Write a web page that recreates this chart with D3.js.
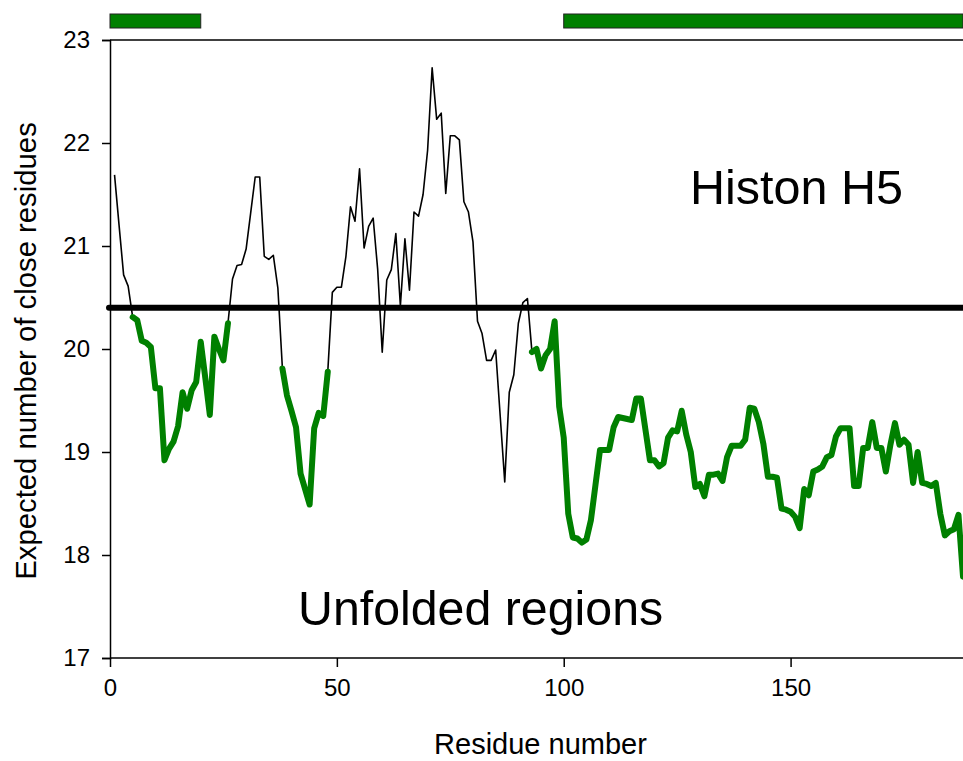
<!DOCTYPE html>
<html>
<head>
<meta charset="utf-8">
<script src="https://cdn.jsdelivr.net/npm/d3@7"></script>
<style>
  body { margin: 0; background: #fff; }
  svg { display: block; font-family: Arial, "Liberation Sans", sans-serif; }
</style>
</head>
<body>
<svg id="chart" width="963" height="761"></svg>
<script>
// expected number of close residues per residue
const residues = d3.range(1, 189);
const values = [
  21.69, 21.20, 20.72, 20.61, 20.31, 20.28, 20.08, 20.06, 20.02, 19.62,
  19.62, 18.92, 19.03, 19.10, 19.25, 19.58, 19.42, 19.60, 19.68, 20.07,
  19.72, 19.36, 20.12, 20.00, 19.89, 20.25, 20.68, 20.81, 20.82, 20.97,
  21.32, 21.67, 21.67, 20.90, 20.87, 20.91, 20.59, 19.81, 19.55, 19.40,
  19.24, 18.79, 18.64, 18.49, 19.23, 19.38, 19.35, 19.78, 20.55, 20.60,
  20.60, 20.90, 21.38, 21.24, 21.75, 20.98, 21.19, 21.27, 20.77, 19.97,
  20.67, 20.77, 21.12, 20.42, 21.07, 20.57, 21.33, 21.29, 21.50, 21.93,
  22.73, 22.23, 22.29, 21.51, 22.07, 22.07, 22.03, 21.43, 21.33, 21.04,
  20.27, 20.15, 19.89, 19.89, 19.99, 19.35, 18.71, 19.58, 19.75, 20.25,
  20.45, 20.49, 19.97, 20.00, 19.81, 19.94, 20.00, 20.27, 19.44, 19.14,
  18.40, 18.17, 18.16, 18.12, 18.15, 18.34, 18.68, 19.02, 19.02, 19.02,
  19.24, 19.34, 19.33, 19.32, 19.31, 19.52, 19.52, 19.22, 18.92, 18.92,
  18.86, 18.89, 19.14, 19.21, 19.20, 19.40, 19.17, 19.00, 18.66, 18.69,
  18.57, 18.78, 18.78, 18.79, 18.72, 18.95, 19.06, 19.06, 19.06, 19.12,
  19.43, 19.42, 19.29, 19.08, 18.76, 18.76, 18.75, 18.45, 18.44, 18.42,
  18.37, 18.26, 18.64, 18.58, 18.81, 18.83, 18.86, 18.95, 18.97, 19.15,
  19.23, 19.23, 19.23, 18.67, 18.67, 19.04, 19.04, 19.29, 19.04, 19.04,
  18.81, 19.07, 19.28, 19.07, 19.12, 19.07, 18.70, 19.00, 18.70, 18.69,
  18.67, 18.70, 18.40, 18.19, 18.23, 18.25, 18.39, 17.79
];
const threshold = 20.4;

// unfolded regions (green) along the curve
const unfoldedStart = [5, 38, 93];
const unfoldedEnd = [26, 48, 188];

// structured regions shown as bars above the plot
const barStart = [0, 100];
const barEnd = [20, 188];

const xTicks = [0, 50, 100, 150];
const yTicks = [17, 18, 19, 20, 21, 22, 23];

const data = residues.map((r, i) => ({ r, v: values[i] }));

const svg = d3.select("#chart");
const margin = { top: 40, right: 0, bottom: 103, left: 110 };
const width = 963, height = 761;

const x = d3.scaleLinear().domain([0, 188]).range([margin.left, width - margin.right]);
const y = d3.scaleLinear().domain([17, 23]).range([height - margin.bottom, margin.top]);

const line = d3.line().x((d) => x(d.r)).y((d) => y(d.v));

// frame
svg.append("line")
  .attr("x1", x(0)).attr("x2", width)
  .attr("y1", y(23)).attr("y2", y(23))
  .attr("stroke", "#000").attr("stroke-width", 1.5);

// axes
const yAxis = svg.append("g")
  .attr("transform", `translate(${x(0)},0)`)
  .call(d3.axisLeft(y).tickValues(yTicks).tickFormat(d3.format("d")).tickSize(8).tickPadding(12));
const xAxis = svg.append("g")
  .attr("transform", `translate(0,${y(17)})`)
  .call(d3.axisBottom(x).tickValues(xTicks).tickFormat(d3.format("d")).tickSize(9).tickPadding(12));

[xAxis, yAxis].forEach((g) => {
  g.select(".domain").attr("stroke-width", 1.5);
  g.selectAll(".tick line").attr("stroke-width", 1.5);
  g.selectAll(".tick text")
    .attr("font-size", 24)
    .attr("font-family", "Arial, 'Liberation Sans', sans-serif")
    .attr("fill", "#000");
});
xAxis.select(".domain").attr("d", `M${x(0)},0H${width}`);

// bars on top
svg.selectAll("rect.bar")
  .data(barStart.map((s, i) => ({ s, e: barEnd[i] })))
  .join("rect")
  .attr("class", "bar")
  .attr("x", (d) => x(d.s))
  .attr("y", 14)
  .attr("width", (d) => x(d.e) - x(d.s))
  .attr("height", 14)
  .attr("fill", "#008000")
  .attr("stroke", "#222")
  .attr("stroke-width", 1);

// full curve, thin black
svg.append("path")
  .datum(data)
  .attr("d", line)
  .attr("fill", "none")
  .attr("stroke", "#000")
  .attr("stroke-width", 1.6)
  .attr("stroke-linejoin", "round");

// threshold line
svg.append("line")
  .attr("x1", x(0) - 1).attr("x2", width)
  .attr("y1", y(threshold)).attr("y2", y(threshold))
  .attr("stroke", "#000")
  .attr("stroke-width", 6)
  .attr("stroke-linecap", "round");

// unfolded regions, thick green
const segments = unfoldedStart.map((s, i) =>
  data.filter((d) => d.r >= s && d.r <= unfoldedEnd[i]));
svg.selectAll("path.unfolded")
  .data(segments)
  .join("path")
  .attr("class", "unfolded")
  .attr("d", line)
  .attr("fill", "none")
  .attr("stroke", "#008000")
  .attr("stroke-width", 6)
  .attr("stroke-linejoin", "round")
  .attr("stroke-linecap", "round");

// labels
svg.append("text")
  .attr("x", 690).attr("y", 204)
  .attr("font-size", 48.5)
  .text("Histon H5");
svg.append("text")
  .attr("x", 298).attr("y", 625)
  .attr("font-size", 48.3)
  .text("Unfolded regions");

svg.append("text")
  .attr("x", (x(0) + width) / 2 + 4).attr("y", 754)
  .attr("text-anchor", "middle")
  .attr("font-size", 29)
  .text("Residue number");
svg.append("text")
  .attr("transform", `translate(36,351) rotate(-90)`)
  .attr("text-anchor", "middle")
  .attr("font-size", 29.3)
  .text("Expected number of close residues");
</script>
</body>
</html>
